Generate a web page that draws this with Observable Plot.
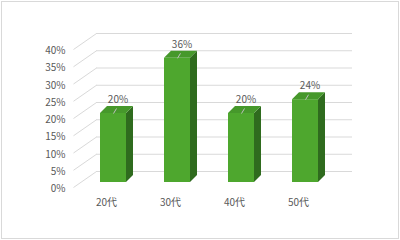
<!DOCTYPE html>
<html><head><meta charset="utf-8">
<script src="https://cdn.jsdelivr.net/npm/d3@7"></script>
<script src="https://cdn.jsdelivr.net/npm/@observablehq/plot@0.6"></script>
<style>
body{margin:0;background:#fff;}
#wrap{position:relative;width:400px;height:240px;overflow:hidden;}
#frame{position:absolute;left:1px;top:1px;width:398px;height:238px;box-sizing:border-box;border:1px solid #d9d9d9;pointer-events:none;}
</style></head><body><div id="wrap"><div id="frame"></div></div>
<script>
const categories = ["20代", "30代", "40代", "50代"];
const values = [20, 36, 20, 24];
const yTicks = [0, 5, 10, 15, 20, 25, 30, 35, 40];

// layout (pixels)
const W = 400, H = 240, L = 73, R = 329, T = 49, B = 187;
const kx = 4 / (R - L), ky = 40 / (B - T);
const WX = 23, WY = 16;   // back wall depth
const BX = 8, BY = 5;     // bar front offset into depth
const SX = 7, SY = 7;     // bar depth
const BW = 26;            // bar width

const bars = categories.map((c, i) => ({
  c, i, v: values[i],
  xl: i + 0.5 + (BX - BW / 2) * kx,
  xr: i + 0.5 + (BX + BW / 2) * kx,
  y0: BY * ky,
  y1: values[i] + BY * ky
}));
const sideFace = bars.flatMap(b => [
  {c: b.c, x: b.xr, y1: b.y0, y2: b.y1},
  {c: b.c, x: b.xr + SX * kx, y1: b.y0 + SY * ky, y2: b.y1 + SY * ky}
]);
const topFace = bars.flatMap(b => [
  {c: b.c, y: b.y1, x1: b.xl, x2: b.xr},
  {c: b.c, y: b.y1 + SY * ky, x1: b.xl + SX * kx, x2: b.xr + SX * kx}
]);

const grid = "#d9d9d9";
const chart = Plot.plot({
  width: W, height: H,
  marginLeft: L, marginRight: W - R, marginTop: T, marginBottom: H - B,
  x: {domain: [0, 4]},
  y: {domain: [0, 40]},
  style: {fontFamily: "'Noto Sans CJK JP', 'Noto Sans', sans-serif", fontSize: "10px", color: "#595959", background: "transparent"},
  marks: [
    Plot.ruleY(yTicks, {y: d => d + WY * ky, x1: WX * kx, x2: 4 + WX * kx, stroke: grid}),
    Plot.link(yTicks, {x1: 0, y1: d => d, x2: WX * kx, y2: d => d + WY * ky, stroke: grid}),
    Plot.rect(bars, {x1: "xl", x2: "xr", y1: "y0", y2: "y1", fill: "#4ea72e"}),
    Plot.area(sideFace, {x1: "x", y1: "y1", y2: "y2", z: "c", fill: "#2f6b1e"}),
    Plot.areaX(topFace, {y: "y", x1: "x1", x2: "x2", z: "c", fill: "#46982b"}),
    Plot.link(bars, {x1: b => b.i + 0.5 + BX * kx, y1: "y1", x2: b => b.i + 0.5 + (BX + 3) * kx, y2: b => b.y1 + 5 * ky, stroke: "#bfbfbf"}),
    Plot.text(bars, {x: b => b.i + 0.5 + (BX + 4.5) * kx, y: b => b.v + (BY + 14) * ky, text: b => b.v + "%", fill: "#595959"}),
    Plot.axisY({ticks: yTicks, tickFormat: d => d + "%", tickSize: 0, tickPadding: 8, dy: 1.5, color: "#595959"}),
    Plot.axisX({ticks: categories.map((_, i) => i + 0.5), tickFormat: d => categories[Math.floor(d)], tickSize: 0, tickPadding: 11, dx: 1, color: "#595959"})
  ]
});
document.getElementById("wrap").prepend(chart);
</script>
</body></html>
